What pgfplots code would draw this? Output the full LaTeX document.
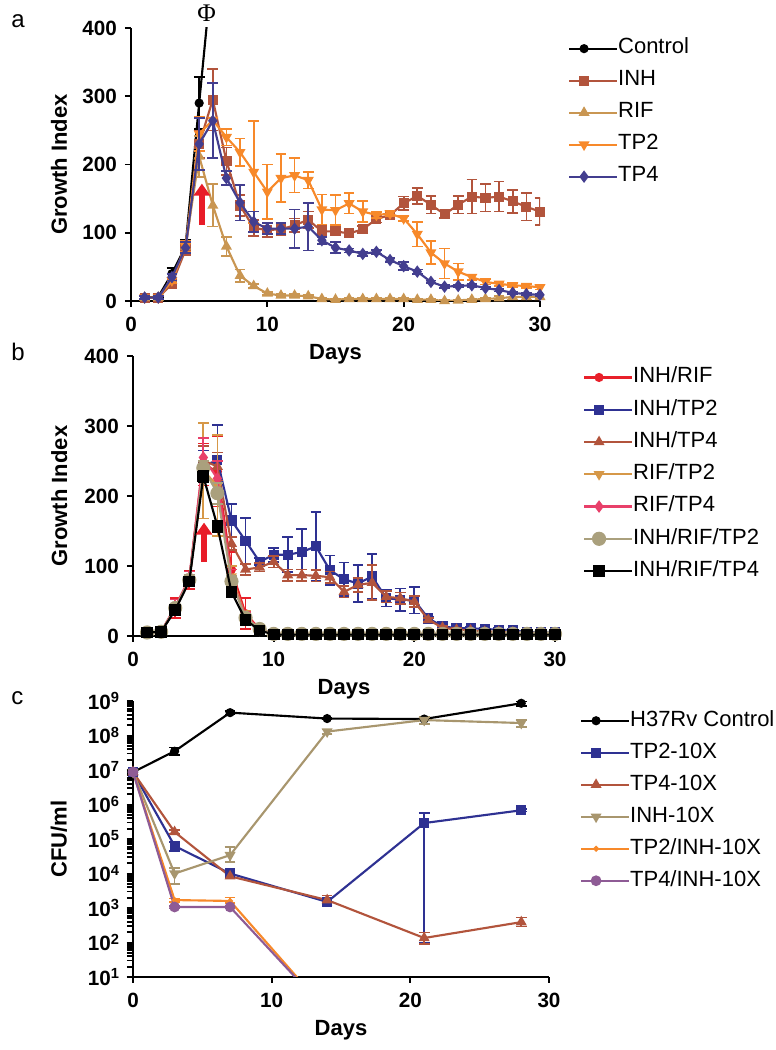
\documentclass[border=0pt]{standalone}
\usepackage{pgfplots}
\pgfplotsset{compat=1.18}
\usepackage{pgfplotstable}
\usepackage{fontspec}
\setmainfont{Liberation Sans}
\newfontfamily\phifont{Liberation Serif}
\usetikzlibrary{arrows.meta}

\definecolor{cInh}{RGB}{178,84,60}
\definecolor{cRif}{RGB}{201,150,82}
\definecolor{cTpTwo}{RGB}{247,137,42}
\definecolor{cTpFour}{RGB}{67,62,143}
\definecolor{bRed}{RGB}{232,32,42}
\definecolor{bBlue}{RGB}{46,49,146}
\definecolor{bTan}{RGB}{214,152,72}
\definecolor{bPink}{RGB}{232,64,106}
\definecolor{bKhaki}{RGB}{170,160,125}
\definecolor{cKhaki}{RGB}{168,150,110}
\definecolor{cPurple}{RGB}{142,91,149}
\definecolor{arrowRed}{RGB}{232,28,40}

% ---------- panel a ----------
\pgfplotstableread[row sep=\\]{x y e\\ 1 5 2\\ 2 6 2\\ 3 40 8\\ 4 80 10\\ 5 290 38\\ 6 495 0\\}\aControl
\pgfplotstableread[row sep=\\]{x y e\\ 1 5 2\\ 2 5 2\\ 3 25 4\\ 4 75 8\\ 5 230 20\\ 6 295 45\\ 7 205 20\\ 8 140 15\\ 9 107 12\\ 10 104 10\\ 11 105 8\\ 12 111 10\\ 13 119 12\\ 14 102 8\\ 15 102 6\\ 16 99 5\\ 17 105 5\\ 18 120 5\\ 19 126 5\\ 20 143 10\\ 21 154 12\\ 22 141 13\\ 23 127 5\\ 24 141 13\\ 25 153 25\\ 26 151 20\\ 27 153 22\\ 28 146 17\\ 29 138 20\\ 30 131 20\\}\aInh
\pgfplotstableread[row sep=\\]{x y e\\ 1 5 2\\ 2 5 2\\ 3 30 4\\ 4 80 8\\ 5 212 30\\ 6 140 31\\ 7 80 14\\ 8 37 9\\ 9 22 3\\ 10 11 2\\ 11 8 2\\ 12 8 2\\ 13 7 2\\ 14 3 1\\ 15 2 1\\ 16 3 1\\ 17 3 1\\ 18 3 1\\ 19 3 1\\ 20 3 1\\ 21 2 1\\ 22 2 1\\ 23 0 1\\ 24 1 1\\ 25 2 1\\ 26 3 2\\ 27 4 3\\ 28 6 4\\ 29 6 4\\ 30 6 3\\}\aRif
\pgfplotstableread[row sep=\\]{x y e\\ 1 5 2\\ 2 5 2\\ 3 30 4\\ 4 80 8\\ 5 245 25\\ 6 265 55\\ 7 240 12\\ 8 218 20\\ 9 189 75\\ 10 160 40\\ 11 180 35\\ 12 184 25\\ 13 177 12\\ 14 134 22\\ 15 133 22\\ 16 143 15\\ 17 131 15\\ 18 126 4\\ 19 128 4\\ 20 121 4\\ 21 98 18\\ 22 71 17\\ 23 55 22\\ 24 43 12\\ 25 35 4\\ 26 28 4\\ 27 25 3\\ 28 23 3\\ 29 22 3\\ 30 20 3\\}\aTpTwo
\pgfplotstableread[row sep=\\]{x y e\\ 1 5 2\\ 2 5 2\\ 3 35 5\\ 4 78 8\\ 5 230 38\\ 6 264 55\\ 7 180 10\\ 8 144 26\\ 9 116 15\\ 10 106 8\\ 11 106 8\\ 12 106 28\\ 13 109 35\\ 14 89 5\\ 15 78 8\\ 16 74 3\\ 17 69 3\\ 18 72 3\\ 19 60 3\\ 20 51 6\\ 21 43 3\\ 22 28 2\\ 23 21 2\\ 24 22 2\\ 25 23 2\\ 26 19 2\\ 27 16 2\\ 28 12 2\\ 29 10 2\\ 30 9 2\\}\aTpFour

% ---------- panel b ----------
\pgfplotstableread[row sep=\\]{x y e\\ 1 5 2\\ 2 6 2\\ 3 40 14\\ 4 80 13\\ 5 245 30\\ 6 235 50\\ 7 95 25\\ 8 32 22\\ 9 10 3\\ 10 3 1\\ 11 3 1\\ 12 3 1\\ 13 3 1\\ 14 3 1\\ 15 3 1\\ 16 3 1\\ 17 3 1\\ 18 3 1\\ 19 3 1\\ 20 3 1\\ 21 3 1\\ 22 3 1\\ 23 3 1\\ 24 3 1\\ 25 3 1\\ 26 3 1\\ 27 3 1\\ 28 3 1\\ 29 3 1\\ 30 3 1\\}\bInhRif
\pgfplotstableread[row sep=\\]{x y e\\ 1 5 2\\ 2 6 2\\ 3 38 5\\ 4 80 8\\ 5 243 22\\ 6 251 50\\ 7 165 24\\ 8 136 33\\ 9 106 5\\ 10 116 10\\ 11 116 25\\ 12 120 33\\ 13 128 49\\ 14 94 21\\ 15 81 24\\ 16 75 26\\ 17 85 32\\ 18 54 12\\ 19 52 16\\ 20 51 19\\ 21 25 3\\ 22 14 2\\ 23 11 2\\ 24 11 2\\ 25 10 2\\ 26 9 2\\ 27 8 2\\ 28 6 2\\ 29 5 2\\ 30 5 2\\}\bInhTpTwo
\pgfplotstableread[row sep=\\]{x y e\\ 1 5 2\\ 2 6 2\\ 3 38 5\\ 4 80 8\\ 5 251 20\\ 6 242 20\\ 7 132 9\\ 8 95 8\\ 9 98 6\\ 10 106 8\\ 11 87 8\\ 12 87 8\\ 13 86 8\\ 14 84 8\\ 15 63 8\\ 16 73 10\\ 17 76 25\\ 18 56 8\\ 19 54 8\\ 20 49 8\\ 21 23 3\\ 22 12 2\\ 23 9 2\\ 24 8 1\\ 25 6 1\\ 26 6 1\\ 27 5 1\\ 28 4 1\\ 29 4 1\\ 30 3 1\\}\bInhTpFour
\pgfplotstableread[row sep=\\]{x y e\\ 1 5 2\\ 2 6 2\\ 3 40 5\\ 4 80 8\\ 5 236 68\\ 6 215 72\\ 7 85 15\\ 8 28 8\\ 9 10 3\\ 10 3 1\\ 11 3 1\\ 12 3 1\\ 13 3 1\\ 14 3 1\\ 15 3 1\\ 16 3 1\\ 17 3 1\\ 18 3 1\\ 19 3 1\\ 20 3 1\\ 21 3 1\\ 22 3 1\\ 23 3 1\\ 24 3 1\\ 25 3 1\\ 26 3 1\\ 27 3 1\\ 28 3 1\\ 29 3 1\\ 30 3 1\\}\bRifTpTwo
\pgfplotstableread[row sep=\\]{x y e\\ 1 5 2\\ 2 6 2\\ 3 42 10\\ 4 82 10\\ 5 255 28\\ 6 225 25\\ 7 80 15\\ 8 28 6\\ 9 10 2\\ 10 3 1\\ 11 3 1\\ 12 3 1\\ 13 3 1\\ 14 3 1\\ 15 3 1\\ 16 3 1\\ 17 3 1\\ 18 3 1\\ 19 3 1\\ 20 3 1\\ 21 3 1\\ 22 3 1\\ 23 3 1\\ 24 3 1\\ 25 3 1\\ 26 3 1\\ 27 3 1\\ 28 3 1\\ 29 3 1\\ 30 3 1\\}\bRifTpFour
\pgfplotstableread[row sep=\\]{x y e\\ 1 5 2\\ 2 6 2\\ 3 40 5\\ 4 80 8\\ 5 240 10\\ 6 204 15\\ 7 78 8\\ 8 26 5\\ 9 10 2\\ 10 3 1\\ 11 3 1\\ 12 3 1\\ 13 3 1\\ 14 3 1\\ 15 3 1\\ 16 3 1\\ 17 3 1\\ 18 3 1\\ 19 3 1\\ 20 3 1\\ 21 3 1\\ 22 3 1\\ 23 3 1\\ 24 3 1\\ 25 3 1\\ 26 3 1\\ 27 3 1\\ 28 3 1\\ 29 3 1\\ 30 3 1\\}\bInhRifTpTwo
\pgfplotstableread[row sep=\\]{x y e\\ 1 5 1\\ 2 6 1\\ 3 37 3\\ 4 78 5\\ 5 228 8\\ 6 157 8\\ 7 63 5\\ 8 23 3\\ 9 8 2\\ 10 2 1\\ 11 2 1\\ 12 2 1\\ 13 2 1\\ 14 2 1\\ 15 2 1\\ 16 2 1\\ 17 2 1\\ 18 2 1\\ 19 2 1\\ 20 2 1\\ 21 2 1\\ 22 2 1\\ 23 2 1\\ 24 2 1\\ 25 2 1\\ 26 2 1\\ 27 2 1\\ 28 2 1\\ 29 2 1\\ 30 2 1\\}\bInhRifTpFour

% ---------- panel c ----------
\pgfplotstableread[row sep=\\]{x y ep em\\ 0 8.7e6 1e6 1e6\\ 3 3.5e7 1e7 8e6\\ 7 4.6e8 6e7 5e7\\ 14 3.1e8 2e7 2e7\\ 21 3.0e8 2e7 2e7\\ 28 8.6e8 1e8 1.5e8\\}\cCtrl
\pgfplotstableread[row sep=\\]{x y ep em\\ 0 8.7e6 1e6 1e6\\ 3 6.3e4 1.8e4 1.8e4\\ 7 1.0e4 1.5e3 1.5e3\\ 14 1.5e3 3e2 3e2\\ 21 2.9e5 2.9e5 2.899e5\\ 28 6.8e5 5e4 5e4\\}\cTpTwo
\pgfplotstableread[row sep=\\]{x y ep em\\ 0 8.7e6 1e6 1e6\\ 3 1.6e5 2e4 2e4\\ 7 8.3e3 1e3 1e3\\ 14 1.7e3 6e2 4.5e2\\ 21 1.35e2 6e1 4.5e1\\ 28 3.9e2 1.4e2 1e2\\}\cTpFour
\pgfplotstableread[row sep=\\]{x y ep em\\ 0 8.7e6 1e6 1e6\\ 3 1.0e4 4.5e3 5e3\\ 7 3.4e4 2.5e4 1.2e4\\ 14 1.3e8 2e7 2e7\\ 21 2.8e8 6e7 6e7\\ 28 2.3e8 5e7 5e7\\}\cInh
\pgfplotstableread[row sep=\\]{x y ep em\\ 0 8.7e6 1e6 1e6\\ 3 1.7e3 2e2 2e2\\ 7 1.6e3 4e2 2e2\\ 14 1 0 0\\}\cTpTwoInh
\pgfplotstableread[row sep=\\]{x y ep em\\ 0 8.7e6 1e6 1e6\\ 3 1.07e3 1e2 1e2\\ 7 1.07e3 1e2 1e2\\ 14 1 0 0\\}\cTpFourInh

\newcommand\tp[1]{10\raisebox{0.62ex}{\fontsize{11}{11}\selectfont\bfseries #1}}

\pgfplotsset{
  panel/.style={
    scale only axis,
    anchor=south west,
    axis x line*=bottom, axis y line*=left,
    axis line style={line width=1.8pt,-},
    major tick style={line width=1.4pt, black},
    tick align=outside,
    major tick length=4.5pt,
    minor tick length=3pt,
    xmin=0,xmax=30,
    xtick={0,10,20,30},
    enlargelimits=false,
    tick label style={font=\fontsize{15.5}{17}\selectfont\bfseries},
    xticklabel style={yshift=-4pt},
    yticklabel style={xshift=-2.5pt},
    /pgf/number format/assume math mode=true,
    label style={font=\fontsize{16.5}{19}\selectfont\bfseries},
    xlabel={Days},
    xlabel style={at={(axis description cs:0.5,0)},anchor=center,yshift=-39.75pt},
    legend cell align=left,
    legend style={draw=none, fill=none, inner sep=0pt, outer sep=0pt, row sep=0pt,
       font=\fontsize{16.5}{19}\selectfont,
       nodes={inner sep=0pt, text height=16pt, text depth=8pt}, anchor=north west},
    legend image code/.code={
      \draw[mark repeat=2,mark phase=2] plot coordinates {(0pt,0pt) (11.25pt,0pt) (22.5pt,0pt)};
      \path (0pt,0pt) -- (36pt,0pt);
    },
    clip mode=individual,
    every axis plot/.append style={line width=1.6pt},
    error bars/error bar style={line width=1.3pt},
    error bars/error mark options={rotate=90, mark size=4pt, line width=1.3pt},
  },
  ser/.style 2 args={color=#1, mark=#2, mark options={solid, fill=#1}},
}

\begin{document}
\begin{tikzpicture}
\useasboundingbox (0,0) rectangle (581.25pt,787.5pt);

\node[anchor=base west, font=\fontsize{18}{18}\selectfont] at (5pt,766.5pt) {a};
\node[anchor=base west, font=\fontsize{18}{18}\selectfont] at (5pt,517pt) {b};
\node[anchor=base west, font=\fontsize{18}{18}\selectfont] at (5pt,259pt) {c};

% ================= panel a =================
\begin{axis}[panel,
  at={(98.25pt,561.75pt)}, width=306.75pt, height=204.75pt,
  ymin=0, ymax=400, ytick={0,100,200,300,400},
  ylabel={Growth Index},
  ylabel style={at={(axis description cs:-0.176,0.5)},anchor=center},
  legend style={at={(1,1)}, xshift=21pt, yshift=-3.5pt},
]
\addplot[ser={black}{*}, mark size=2.6pt, error bars/.cd, y dir=both, y explicit] table[x=x,y=y,y error=e]{\aControl};
\addlegendentry{Control}
\addplot[ser={cInh}{square*}, mark size=3pt, error bars/.cd, y dir=both, y explicit] table[x=x,y=y,y error=e]{\aInh};
\addlegendentry{INH}
\addplot[ser={cRif}{triangle*}, mark size=3.2pt, error bars/.cd, y dir=both, y explicit] table[x=x,y=y,y error=e]{\aRif};
\addlegendentry{RIF}
\addplot[color=cTpTwo, mark=triangle*, mark options={solid, fill=cTpTwo, rotate=180}, mark size=3.2pt, error bars/.cd, y dir=both, y explicit] table[x=x,y=y,y error=e]{\aTpTwo};
\addlegendentry{TP2}
\addplot[ser={cTpFour}{diamond*}, mark size=3.4pt, error bars/.cd, y dir=both, y explicit] table[x=x,y=y,y error=e]{\aTpFour};
\addlegendentry{TP4}
\draw[-{Triangle[width=12pt,length=9pt]}, line width=4pt, arrowRed] (axis cs:5.2,112) -- (axis cs:5.2,172);
\node[font=\fontsize{19}{19}\selectfont\phifont] at (axis cs:5.55,421) {Φ};
\end{axis}

% ================= panel b =================
\begin{axis}[panel,
  at={(99.75pt,310.5pt)}, width=316.5pt, height=210pt,
  ymin=0, ymax=400, ytick={0,100,200,300,400},
  ylabel={Growth Index},
  ylabel style={at={(axis description cs:-0.175,0.5)},anchor=center},
  legend style={at={(1,1)}, xshift=21pt, yshift=-4pt, nodes={text height=16.2pt, text depth=8pt}},
]
\addplot[ser={bRed}{*}, mark size=2.6pt, error bars/.cd, y dir=both, y explicit] table[x=x,y=y,y error=e]{\bInhRif};
\addlegendentry{INH/RIF}
\addplot[ser={bBlue}{square*}, mark size=3pt, error bars/.cd, y dir=both, y explicit] table[x=x,y=y,y error=e]{\bInhTpTwo};
\addlegendentry{INH/TP2}
\addplot[ser={cInh}{triangle*}, mark size=3.2pt, error bars/.cd, y dir=both, y explicit] table[x=x,y=y,y error=e]{\bInhTpFour};
\addlegendentry{INH/TP4}
\addplot[color=bTan, mark=triangle*, mark options={solid, fill=bTan, rotate=180}, mark size=3.2pt, error bars/.cd, y dir=both, y explicit] table[x=x,y=y,y error=e]{\bRifTpTwo};
\addlegendentry{RIF/TP2}
\addplot[ser={bPink}{diamond*}, mark size=3.4pt, error bars/.cd, y dir=both, y explicit] table[x=x,y=y,y error=e]{\bRifTpFour};
\addlegendentry{RIF/TP4}
\addplot[ser={bKhaki}{*}, mark size=4.5pt, error bars/.cd, y dir=both, y explicit] table[x=x,y=y,y error=e]{\bInhRifTpTwo};
\addlegendentry{INH/RIF/TP2}
\addplot[ser={black}{square*}, mark size=3.6pt, error bars/.cd, y dir=both, y explicit] table[x=x,y=y,y error=e]{\bInhRifTpFour};
\addlegendentry{INH/RIF/TP4}
\draw[-{Triangle[width=12pt,length=9pt]}, line width=4pt, arrowRed] (axis cs:5.05,106) -- (axis cs:5.05,162);
\end{axis}

% ================= panel c : minor ticks of the log axis =================
\begin{axis}[scale only axis, anchor=south west,
  at={(99.75pt,54.75pt)}, width=312pt, height=207pt,
  axis x line=none, axis y line*=left,
  axis line style={line width=1.8pt,-},
  ymode=log, ymin=10, ymax=1e9, xmin=0, xmax=30,
  tick align=outside,
  major tick length=4.5pt,
  minor tick length=4.5pt,
  minor tick style={line width=1.4pt, black},
  ytickten={1,...,9},
  yticklabels={},
]
\end{axis}

% ================= panel c =================
\begin{axis}[panel,
  at={(99.75pt,54.75pt)}, width=312pt, height=207pt,
  clip mode=global,
  ymode=log, log basis y=10, ymin=10, ymax=1e9,
  ytickten={1,2,3,4,5,6,7,8,9},
  yticklabel={\tp{\pgfmathparse{int(round(\tick))}\pgfmathresult}},
  ylabel={CFU/ml},
  ylabel style={at={(axis description cs:-0.178,0.5)},anchor=center},
  legend style={at={(1,1)}, xshift=23.25pt, yshift=-2.8pt},
]
\addplot[ser={black}{*}, mark size=2.6pt, error bars/.cd, y dir=both, y explicit] table[x=x,y=y,y error plus=ep,y error minus=em]{\cCtrl};
\addlegendentry{H37Rv Control}
\addplot[ser={bBlue}{square*}, mark size=3pt, error bars/.cd, y dir=both, y explicit] table[x=x,y=y,y error plus=ep,y error minus=em]{\cTpTwo};
\addlegendentry{TP2-10X}
\addplot[ser={cInh}{triangle*}, mark size=3.2pt, error bars/.cd, y dir=both, y explicit] table[x=x,y=y,y error plus=ep,y error minus=em]{\cTpFour};
\addlegendentry{TP4-10X}
\addplot[color=cKhaki, mark=triangle*, mark options={solid, fill=cKhaki, rotate=180}, mark size=3.2pt, error bars/.cd, y dir=both, y explicit] table[x=x,y=y,y error plus=ep,y error minus=em]{\cInh};
\addlegendentry{INH-10X}
\addplot[ser={cTpTwo}{*}, mark size=1.3pt, error bars/.cd, y dir=both, y explicit] table[x=x,y=y,y error plus=ep,y error minus=em]{\cTpTwoInh};
\addlegendentry{TP2/INH-10X}
\addplot[ser={cPurple}{*}, mark size=3.2pt, error bars/.cd, y dir=both, y explicit] table[x=x,y=y,y error plus=ep,y error minus=em]{\cTpFourInh};
\addlegendentry{TP4/INH-10X}
\end{axis}
\end{tikzpicture}
\end{document}
